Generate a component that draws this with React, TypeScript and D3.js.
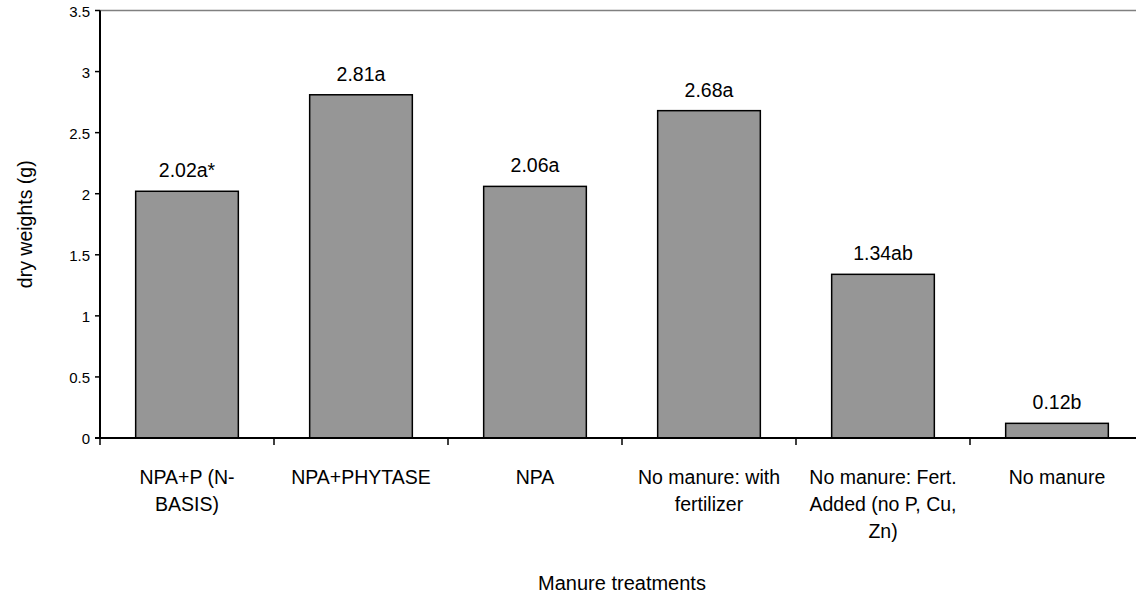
import React from "react";
import * as d3 from "d3";

const categories = [
  "NPA+P (N-BASIS)",
  "NPA+PHYTASE",
  "NPA",
  "No manure: with fertilizer",
  "No manure: Fert. Added (no P, Cu, Zn)",
  "No manure",
];
const categoryLabelLines = [
  ["NPA+P (N-", "BASIS)"],
  ["NPA+PHYTASE"],
  ["NPA"],
  ["No manure: with", "fertilizer"],
  ["No manure: Fert.", "Added (no P, Cu,", "Zn)"],
  ["No manure"],
];
const dryWeights = [2.02, 2.81, 2.06, 2.68, 1.34, 0.12];
const significance = ["a*", "a", "a", "a", "ab", "b"];
const yTicks = [0, 0.5, 1, 1.5, 2, 2.5, 3, 3.5];
const yMax = 3.5;
const yTitle = "dry weights (g)";
const xTitle = "Manure treatments";

const W = 1136;
const H = 597;
const FONT = "Arial, 'Liberation Sans', Helvetica, sans-serif";

export default function App() {
  const left = 100;
  const right = 1144;
  const top = 10.5;
  const bottom = 438;

  const x = d3.scaleBand<string>().domain(categories).range([left, right]).padding(0);
  const y = d3.scaleLinear().domain([0, yMax]).range([bottom, top]);
  const bw = x.bandwidth();
  const barW = bw * 0.59;

  const boundaries = d3.range(categories.length + 1).map((i) => left + i * bw);

  return (
    <svg
      width={W}
      height={H}
      style={{ position: "absolute", left: 0, top: 0, background: "#fff" }}
      fontFamily={FONT}
    >
      <rect x={0} y={0} width={W} height={H} fill="#fff" />
      {/* top border of plot area */}
      <line x1={left} x2={W} y1={top} y2={top} stroke="#808080" strokeWidth={1.5} />

      {/* bars */}
      {categories.map((c, i) => {
        const cx = (x(c) as number) + bw / 2;
        const yt = y(dryWeights[i]);
        return (
          <g key={c}>
            <rect
              x={cx - barW / 2}
              y={yt}
              width={barW}
              height={bottom - yt}
              fill="#969696"
              stroke="#000"
              strokeWidth={1.5}
            />
            <text
              x={cx}
              y={yt - 14}
              textAnchor="middle"
              fontSize={19.5}
              fill="#000"
            >
              {dryWeights[i].toFixed(2) + significance[i]}
            </text>
          </g>
        );
      })}

      {/* y axis */}
      <line x1={left} x2={left} y1={top} y2={bottom} stroke="#000" strokeWidth={2} />
      {yTicks.map((t) => (
        <g key={t}>
          <line x1={left - 5} x2={left} y1={y(t)} y2={y(t)} stroke="#000" strokeWidth={1.5} />
          <text
            x={90}
            y={y(t) + 6}
            textAnchor="end"
            fontSize={15}
            fill="#000"
          >
            {t}
          </text>
        </g>
      ))}

      {/* x axis */}
      <line x1={left - 5} x2={W} y1={bottom} y2={bottom} stroke="#000" strokeWidth={2} />
      {boundaries.map((bx, i) => (
        <line key={i} x1={bx} x2={bx} y1={bottom} y2={bottom + 7} stroke="#000" strokeWidth={1.5} />
      ))}
      {categories.map((c, i) => {
        const cx = (x(c) as number) + bw / 2;
        return (
          <text key={c} textAnchor="middle" fontSize={19.5} fill="#000">
            {categoryLabelLines[i].map((ln, j) => (
              <tspan key={j} x={cx} y={484 + j * 27}>
                {ln}
              </tspan>
            ))}
          </text>
        );
      })}

      {/* axis titles */}
      <text
        transform={`translate(32, ${(top + bottom) / 2}) rotate(-90)`}
        textAnchor="middle"
        fontSize={19.5}
        fill="#000"
      >
        {yTitle}
      </text>
      <text x={(left + right) / 2} y={590} textAnchor="middle" fontSize={20} fill="#000">
        {xTitle}
      </text>
    </svg>
  );
}
